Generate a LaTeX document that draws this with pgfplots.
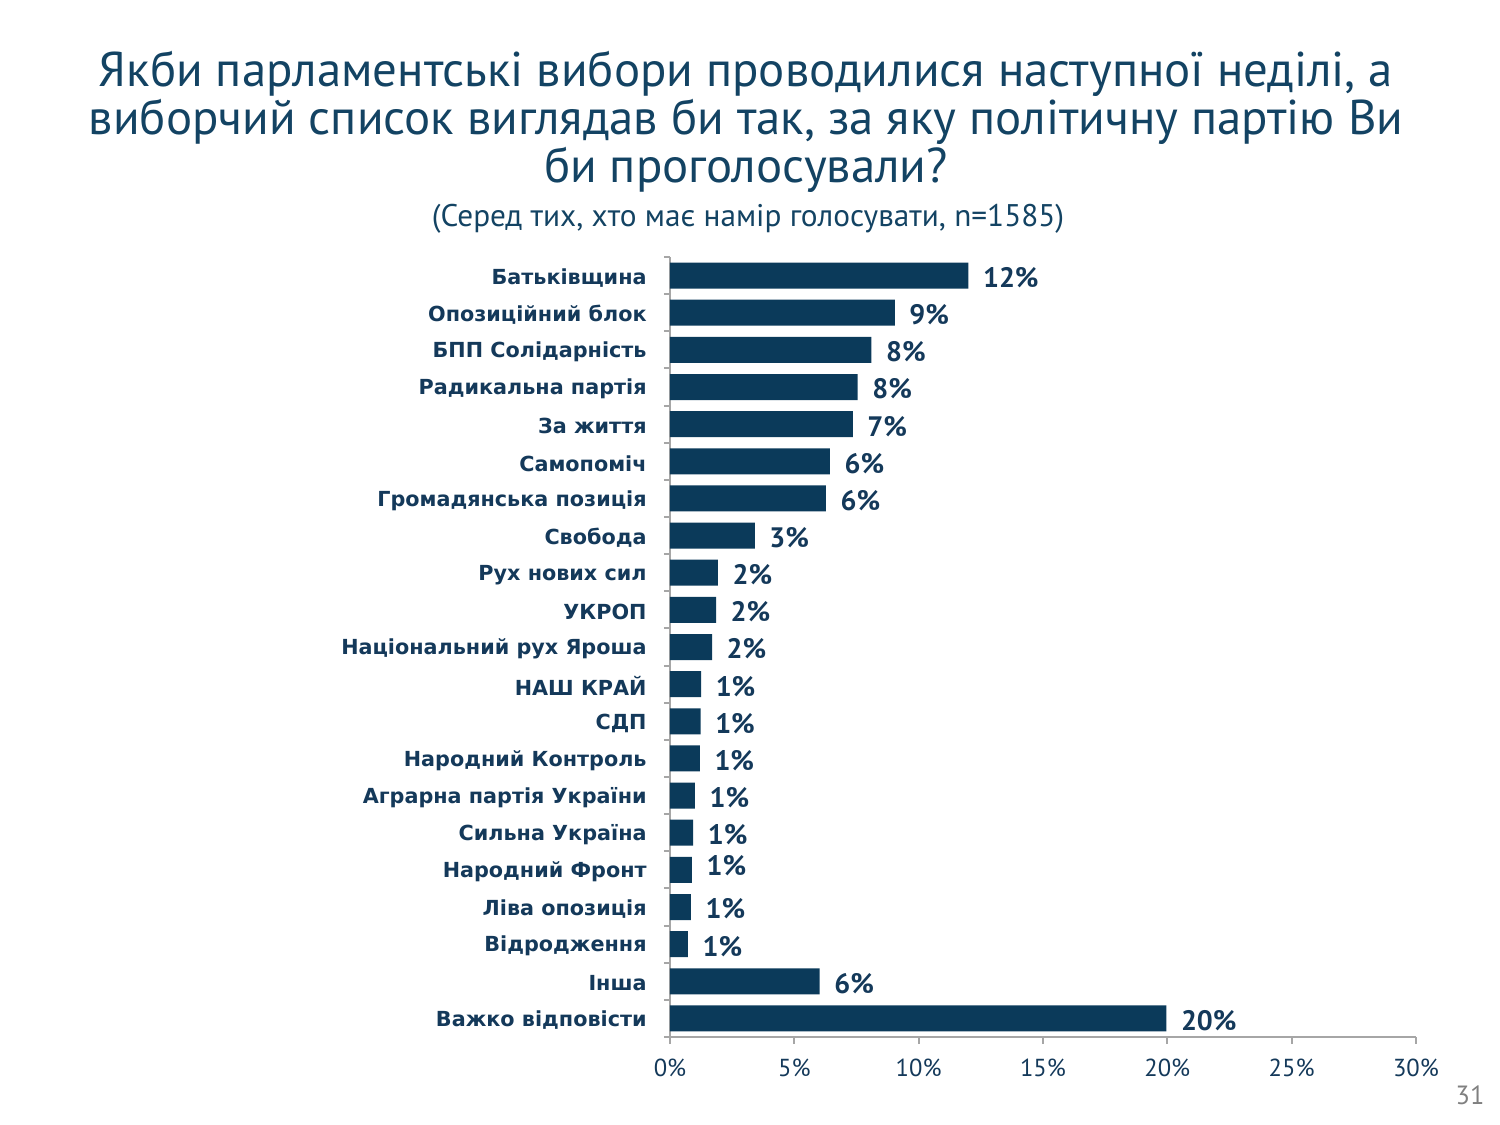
\documentclass[border=0pt]{standalone}
\usepackage{pgfplots}
\usepackage{pgfplotstable}
\pgfplotsset{compat=1.18}
\usepackage{fontspec}
\setmainfont{PT Sans}
\newfontfamily\labfont{DejaVu Sans}
\definecolor{barcol}{HTML}{0B3A5A}
\definecolor{titlecol}{HTML}{134363}
\definecolor{labcol}{HTML}{14395A}
\definecolor{axcol}{HTML}{A6A6A6}

\pgfplotstableread{
idx val lab dy
0 12.0 12 -0.6
1 9.04 9 -0.6
2 8.10 8 -0.6
3 7.55 8 -0.6
4 7.35 7 -0.6
5 6.43 6 -0.6
6 6.27 6 -0.6
7 3.41 3 -0.6
8 1.93 2 -0.6
9 1.85 2 -0.6
10 1.69 2 -0.6
11 1.25 1 -0.6
12 1.23 1 -0.6
13 1.20 1 -0.6
14 1.00 1 -0.6
15 0.93 1 -0.6
16 0.88 1 1.2
17 0.84 1 -0.6
18 0.72 1 -0.6
19 6.02 6 -0.6
20 19.96 20 -0.6
}\data

\begin{document}
\begin{tikzpicture}
\path (0,0) rectangle (15cm,11.25cm);
\node[align=center, text=titlecol, font=\fontsize{13.9}{13.7}\selectfont] at (7.46cm,10.03cm)
  {Якби парламентські вибори проводилися наступної неділі, а\\виборчий список виглядав би так, за яку політичну партію Ви\\би проголосували?};
\node[text=titlecol, font=\fontsize{8.9}{10}\selectfont] at (7.48cm,9.06cm)
  {(Серед тих, хто має намір голосувати, n=1585)};
\node[text=gray, font=\fontsize{7.5}{9}\selectfont] at (14.70cm,0.30cm) {31};
\begin{axis}[
  at={(6.70cm,0.88cm)}, anchor=south west,
  scale only axis, width=7.46cm, height=7.80cm,
  xbar, bar width=0.26cm,
  xmin=0, xmax=30, ymin=-0.5, ymax=20.5,
  y dir=reverse,
  axis x line*=bottom, axis y line*=left,
  axis line style={axcol, line width=0.6pt},
  xtick={0,5,...,30},
  xticklabel={\pgfmathprintnumber{\tick}\%},
  /pgf/number format/assume math mode=true,
  xticklabel style={font=\fontsize{7}{8}\selectfont, text=labcol, yshift=-0.03cm},
  ytick={0,...,20},
  yticklabels={Батьківщина, Опозиційний блок, БПП Солідарність, Радикальна партія, За життя, Самопоміч, Громадянська позиція, Свобода, Рух нових сил, УКРОП, Національний рух Яроша, НАШ КРАЙ, СДП, Народний Контроль, Аграрна партія України, Сильна Україна, Народний Фронт, Ліва опозиція, Відродження, Інша, Важко відповісти},
  yticklabel style={font=\labfont\bfseries\fontsize{5.9}{7}\selectfont, text=labcol, xshift=-0.04cm, yshift=-0.02cm},
  minor ytick={-0.5,0.5,...,20.5},
  major y tick style={draw=none},
  tick align=outside,
  x tick style={axcol, line width=0.6pt},
  minor tick style={axcol, line width=0.6pt},
  major tick length=0.07cm, minor tick length=0.06cm,
  clip=false,
]
\addplot[fill=barcol, draw=none,
  point meta=explicit symbolic,
  visualization depends on={\thisrow{dy} \as \dy},
  nodes near coords={\pgfplotspointmeta\%},
  nodes near coords style={anchor=west, inner sep=0pt, xshift=0.14cm, yshift=\dy pt, text=labcol, font=\bfseries\fontsize{8}{9}\selectfont},
] table[x=val, y=idx, meta=lab] {\data};
\end{axis}
\end{tikzpicture}
\end{document}
